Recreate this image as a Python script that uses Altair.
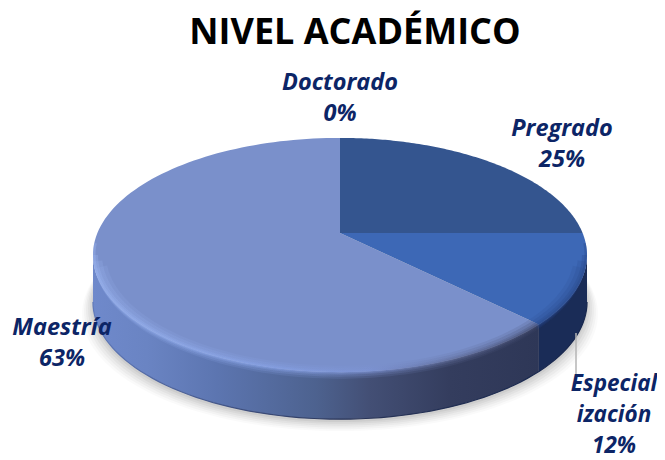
import math
import altair as alt
import pandas as pd

# ---- chart values -------------------------------------------------
categories = ["Doctorado", "Pregrado", "Especialización", "Maestría"]
values = [0, 25, 12.4, 62.6]
label_names = ["Doctorado", "Pregrado", "Especial\nización", "Maestría"]
label_sizes = [23.5, 23.5, 22.5, 23.5]
face_colors = ["#2f4d86", "#34558f", "#3d68b6", "#7a90cb"]

# ---- view geometry of the tilted pie ------------------------------
W, H = 649, 452
APEX_X, APEX_Y = 340 - 8, 233 - 8
A, B, K = 242.6, 113.0, 0.188
DEPTH = 47


def rim(t):
    u, v = math.sin(t), math.cos(t)
    d = 1 + K * v
    return APEX_X + A * u / d, APEX_Y - B * v / d


def arc(t0, t1, n=80):
    return [rim(t0 + (t1 - t0) * i / n) for i in range(n + 1)]


def table(points):
    return pd.DataFrame(
        [{"px": p[0], "py": p[1], "i": i} for i, p in enumerate(points)]
    )


X = alt.X("px:Q", axis=None, scale=alt.Scale(domain=[0, W], nice=False, zero=False))
Y = alt.Y("py:Q", axis=None, scale=alt.Scale(domain=[H, 0], nice=False, zero=False))
ORDER = alt.Order("i:Q")


def poly(points, **mark):
    return (
        alt.Chart(table(points + [points[0]]))
        .mark_line(strokeWidth=0, interpolate="linear", **mark)
        .encode(x=X, y=Y, order=ORDER)
    )


def edge(points, **mark):
    return (
        alt.Chart(table(points))
        .mark_line(interpolate="linear", **mark)
        .encode(x=X, y=Y, order=ORDER)
    )


def grad(stops):
    return alt.LinearGradient(
        gradient="linear",
        x1=0, x2=1, y1=0, y2=0,
        stops=[alt.GradientStop(offset=o, color=c) for o, c in stops],
    )


# cumulative angles from twelve o'clock, clockwise
total = sum(values)
angles = [0.0]
for v in values:
    angles.append(angles[-1] + 2 * math.pi * v / total)
t_esp = angles[3]
t_right = math.acos(-K)
t_left = 2 * math.pi - t_right


def wall(t0, t1):
    top = arc(t0, t1)
    bottom = [(x, y + DEPTH) for x, y in reversed(top)]
    return top + bottom


def inset(points, amount, drop=0.0):
    return [(APEX_X + (x - APEX_X) * (1 - amount / 245), y + drop) for x, y in points]


layers = []

# soft ground shadow
full = arc(0, 2 * math.pi, 200)
for grow, op in [(11, 0.04), (9, 0.05), (7, 0.06), (5, 0.07), (3, 0.09), (1, 0.11)]:
    pts = [
        (APEX_X + (x - APEX_X) * (1 + grow / 250), y + DEPTH + grow * 0.9 + 2)
        for x, y in full
    ]
    layers.append(poly(pts, fill="#777777", fillOpacity=op))

# side walls
layers.append(
    poly(
        wall(t_esp, t_left),
        fill=grad(
            [
                (0.0, "#6f89cb"),
                (0.12, "#6a84c3"),
                (0.28, "#5c75b0"),
                (0.5, "#4d628f"),
                (0.62, "#434f75"),
                (0.8, "#343d5e"),
                (1.0, "#2e3757"),
            ]
        ),
    )
)
layers.append(poly(wall(t_right, t_esp), fill="#1a2c57"))
layers.append(
    edge(
        [(x, y + DEPTH) for x, y in arc(t_right, t_left)],
        stroke=grad([(0, "#5f79ba"), (0.5, "#2a3558"), (1, "#16264d")]),
        strokeWidth=1.2,
    )
)

# top faces: one slice per non-zero value
apex = (APEX_X, APEX_Y)
for i in range(1, len(values)):
    layers.append(
        poly([apex] + arc(angles[i], angles[i + 1], 120), fill=face_colors[i])
    )

# bevel along the front rim, tapering towards both ends
bevel_maestria = grad(
    [
        (0.0, "#9ab4f0"),
        (0.4, "#87a2e6"),
        (0.62, "#7d93d4"),
        (0.82, "#5e6a96"),
        (1.0, "#40486b"),
    ]
)
bevel_esp = "#2a4a8c"
for sw, op, trim in [(13, 0.16, -0.1), (9, 0.22, -0.05), (5, 0.3, 0.0), (2.5, 0.4, 0.1)]:
    layers.append(
        edge(inset(arc(t_esp, t_left + trim), sw / 2), stroke=bevel_maestria, strokeWidth=sw, strokeOpacity=op)
    )
    layers.append(
        edge(inset(arc(t_right - trim, t_esp), sw / 2), stroke=bevel_esp, strokeWidth=sw, strokeOpacity=op)
    )

# leader line of the Especialización label
layers.append(
    alt.Chart(pd.DataFrame({"a": [0]}))
    .mark_rule(color="#b5b5b5", strokeWidth=1.5)
    .encode(x=alt.value(576 - 8), y=alt.value(333 - 8), y2=alt.value(378 - 8))
)

# data labels
label_font = dict(
    font="Open Sans",
    fontWeight="bold",
    fontStyle="italic",
    color="#0c2566",
    align="center",
    baseline="middle",
    lineHeight=31,
)
label_xy = [(340, 83), (562, 129), (614, 384), (62, 328)]
for name, val, size, (lx, ly) in zip(label_names, values, label_sizes, label_xy):
    layers.append(
        alt.Chart(pd.DataFrame({"t": [f"{name}\n{round(val)}%"]}))
        .mark_text(lineBreak="\n", fontSize=size, **label_font)
        .encode(text="t:N", x=alt.value(lx - 8), y=alt.value(ly - 8))
    )

# title
layers.append(
    alt.Chart(pd.DataFrame({"t": ["NIVEL ACADÉMICO"]}))
    .mark_text(font="Open Sans", fontSize=36, fontWeight="bold", color="#000000", align="center", baseline="middle")
    .encode(text="t:N", x=alt.value(355 - 8), y=alt.value(33 - 8))
)

chart = (
    alt.layer(*layers)
    .properties(width=W, height=H, padding=0, background="#ffffff",
                autosize=alt.AutoSizeParams(type="none"))
    .configure_view(stroke=None)
)
chart.save("out.html", embed_options={"renderer": "svg", "actions": False})
